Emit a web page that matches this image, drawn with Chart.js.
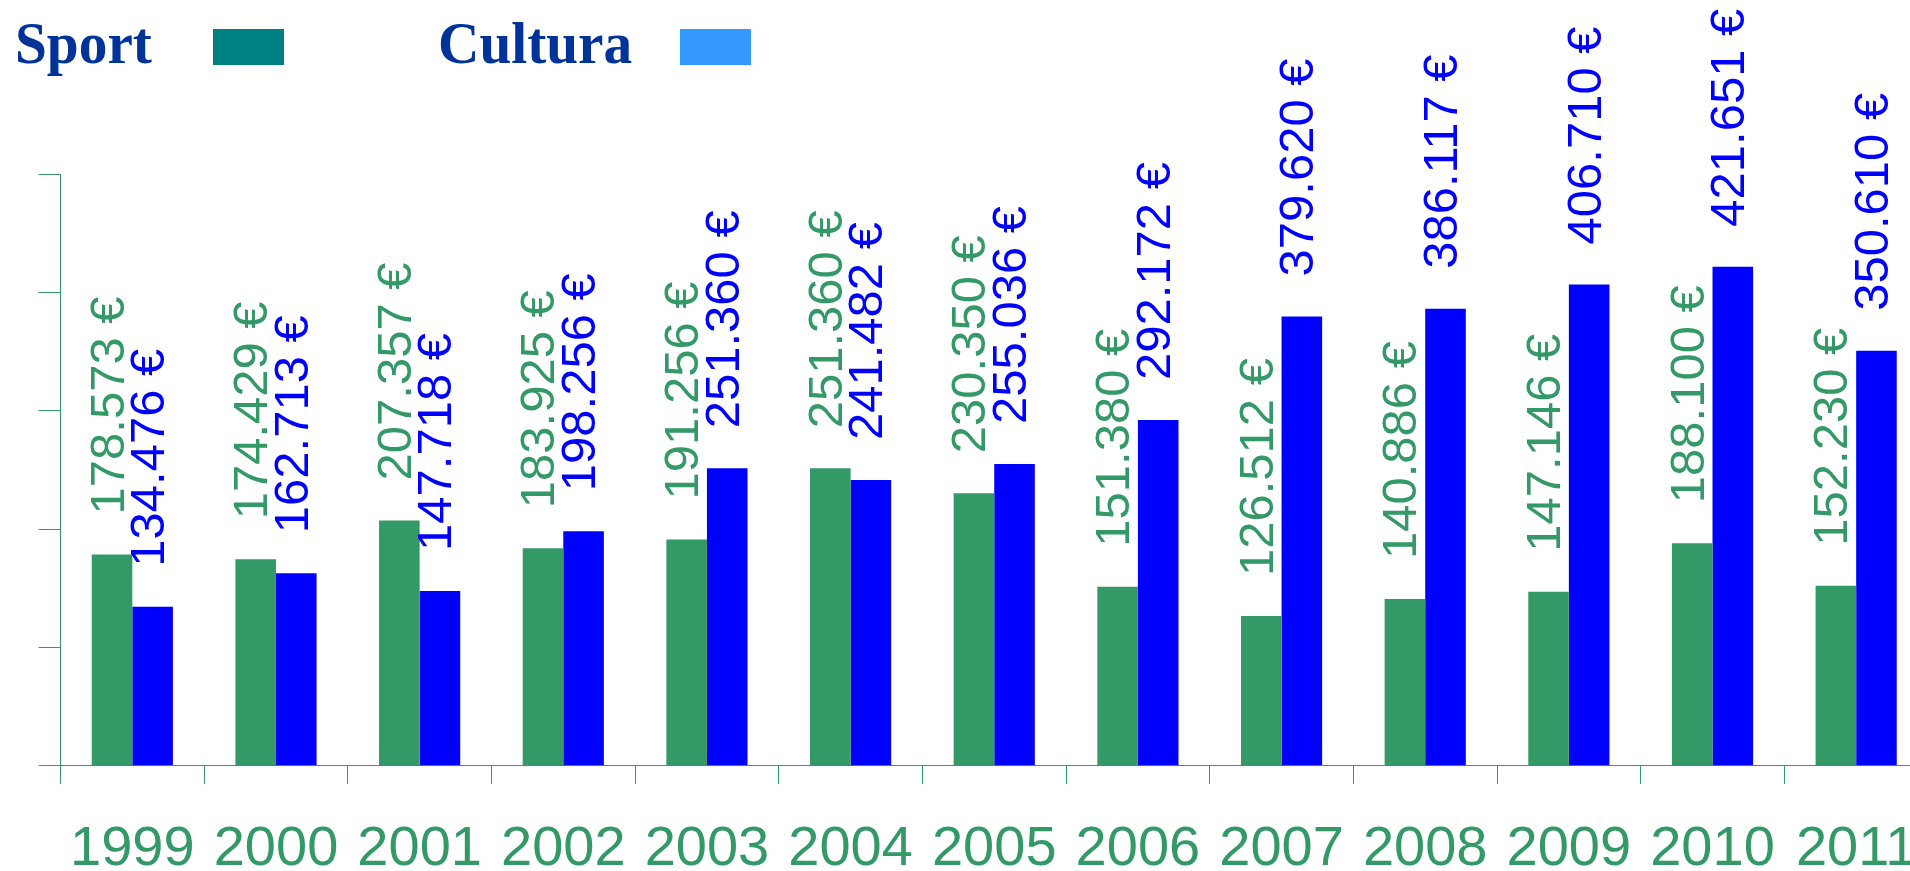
<!DOCTYPE html>
<html>
<head>
<meta charset="utf-8">
<script src="https://cdn.jsdelivr.net/npm/chart.js@4/dist/chart.umd.min.js"></script>
<style>
  html, body { margin: 0; padding: 0; background: #fff; width: 1910px; height: 871px; overflow: hidden; }
  #wrap { position: absolute; left: 0; top: 0; width: 1928px; height: 916px; }
  .lg { position: absolute; font-family: 'Liberation Serif', 'Times New Roman', serif; font-weight: bold; font-size: 60px; line-height: 60px; color: #003399; white-space: nowrap; transform: scaleX(0.955); transform-origin: 0 0; }
  .box { position: absolute; width: 71px; height: 36px; top: 29px; }
</style>
</head>
<body>
<div id="wrap"><canvas id="c"></canvas></div>
<div class="lg" style="left:15px; top:13px;">Sport</div>
<div class="box" style="left:213px; background:#008080;"></div>
<div class="lg" style="left:438px; top:13px;">Cultura</div>
<div class="box" style="left:680px; background:#3399FF;"></div>
<script>
const categories = ['1999','2000','2001','2002','2003','2004','2005','2006','2007','2008','2009','2010','2011'];
const sportValues = [178573, 174429, 207357, 183925, 191256, 251360, 230350, 151380, 126512, 140886, 147146, 188100, 152230];
const culturaValues = [134476, 162713, 147718, 198256, 251360, 241482, 255036, 292172, 379620, 386117, 406710, 421651, 350610];
const yTickValues = [0, 100000, 200000, 300000, 400000, 500000];

function fmt(v) {
  return String(v).replace(/\B(?=(\d{3})+(?!\d))/g, '.') + ' €';
}

const labelPlugin = {
  id: 'valueLabels',
  afterDatasetsDraw(chart) {
    const ctx = chart.ctx;
    chart.data.datasets.forEach((ds, di) => {
      const meta = chart.getDatasetMeta(di);
      meta.data.forEach((el, i) => {
        ctx.save();
        ctx.translate(el.x + 11.5, el.y - 40);
        ctx.rotate(-Math.PI / 2);
        ctx.font = '49px "Liberation Sans", Arial, sans-serif';
        ctx.fillStyle = ds.labelColor;
        ctx.textAlign = 'left';
        ctx.textBaseline = 'alphabetic';
        ctx.fillText(fmt(ds.data[i]), 0, 0);
        ctx.restore();
      });
    });
  }
};

new Chart(document.getElementById('c'), {
  type: 'bar',
  data: {
    labels: categories,
    datasets: [
      { label: 'Sport', data: sportValues, backgroundColor: '#339966', labelColor: '#339966', barPercentage: 1, categoryPercentage: 0.565 },
      { label: 'Cultura', data: culturaValues, backgroundColor: '#0000FF', labelColor: '#0000FF', barPercentage: 1, categoryPercentage: 0.565 }
    ]
  },
  options: {
    responsive: true,
    maintainAspectRatio: false,
    animation: false,
    layout: { padding: { left: 38.5, top: 174, right: 0, bottom: 0 } },
    plugins: { legend: { display: false }, tooltip: { enabled: false } },
    scales: {
      x: {
        grid: { display: true, offset: true, drawOnChartArea: false, drawTicks: true, tickLength: 18, color: '#339966', lineWidth: 1 },
        border: { display: true, color: '#339966', width: 1 },
        ticks: { color: '#339966', font: { family: '"Liberation Sans", Arial, sans-serif', size: 56, lineHeight: 2.36 }, padding: 0, maxRotation: 0, minRotation: 0, autoSkip: false }
      },
      y: {
        min: yTickValues[0],
        max: yTickValues[yTickValues.length - 1],
        afterBuildTicks(scale) { scale.ticks = yTickValues.map(v => ({ value: v })); },
        grid: { display: true, drawOnChartArea: false, drawTicks: true, tickLength: 22, color: '#339966', lineWidth: 1 },
        border: { display: true, color: '#339966', width: 1 },
        ticks: { display: false }
      }
    }
  },
  plugins: [labelPlugin]
});
</script>
</body>
</html>
